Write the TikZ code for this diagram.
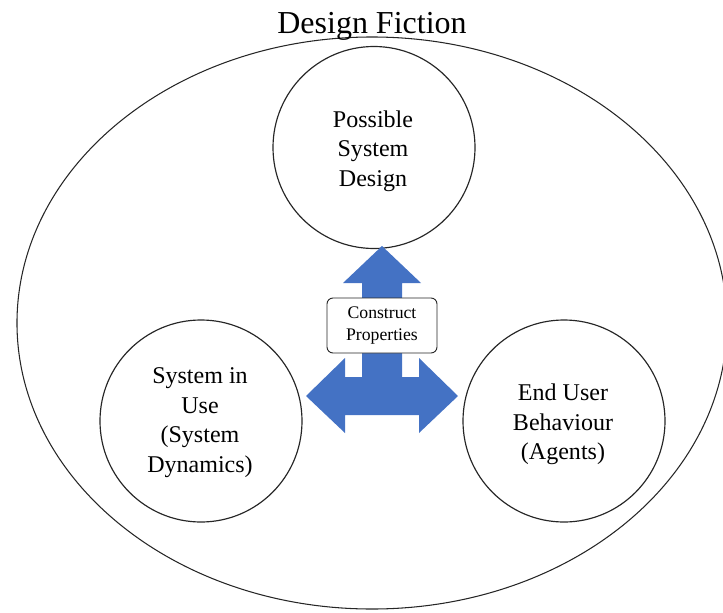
\documentclass[tikz,border=0pt]{standalone}
\usepackage{fontspec}
\setmainfont{Liberation Serif}
\usetikzlibrary{shapes.geometric}
\definecolor{arrowblue}{HTML}{4472C4}

\begin{document}
\begin{tikzpicture}
[
x=0.03cm, y=-0.03cm,
fictionoval/.style={ellipse, draw=black!85, line width=0.9pt, minimum width=21.3cm, minimum height=17.16cm, inner sep=0},
partcircle/.style={circle, draw=black!85, line width=1pt, minimum size=6.06cm, inner sep=0},
partlabel/.style={align=center, font=\fontsize{20.5}{25.2}\selectfont},
propbox/.style={rectangle, rounded corners=0.18cm, draw=black!85, fill=white, line width=0.8pt, minimum width=3.3cm, minimum height=1.65cm, align=center, font=\fontsize{15.1}{18.5}\selectfont}
]
\useasboundingbox (0,0) rectangle (723,613);
%Nodes
\node[fictionoval] at(372,323)		(df) {};
\node[partcircle] at(374,147.5)		(psd) {};
\node[partcircle] at(201,421)		(siu) {};
\node[partcircle] at(564,421)		(eub) {};
\node[anchor=base, font=\fontsize{27.3}{32}\selectfont]	(title) at(372,33) {Design Fiction};
\node[partlabel]	(l1) at(373,151) {Possible\\System\\Design};
\node[partlabel]	(l2) at(200,422.5) {System in\\Use\\(System\\Dynamics)};
\node[partlabel]	(l3) at(563,424.5) {End User\\Behaviour\\(Agents)};
%Arrow
\coordinate (hub) at(382,396);
\fill[arrowblue, shift={(hub)}] (0,-150) -- (39,-113) -- (20,-113) -- (20,-19) -- (37,-19) -- (37,-38)
	-- (76,0) -- (37,37) -- (37,19) -- (-37,19) -- (-37,37) -- (-76,0) -- (-37,-38) -- (-37,-19)
	-- (-20,-19) -- (-20,-113) -- (-39,-113) -- cycle;
\node[propbox] at(382,325.5)	(cp) {Construct\\Properties};
\end{tikzpicture}
\end{document}
